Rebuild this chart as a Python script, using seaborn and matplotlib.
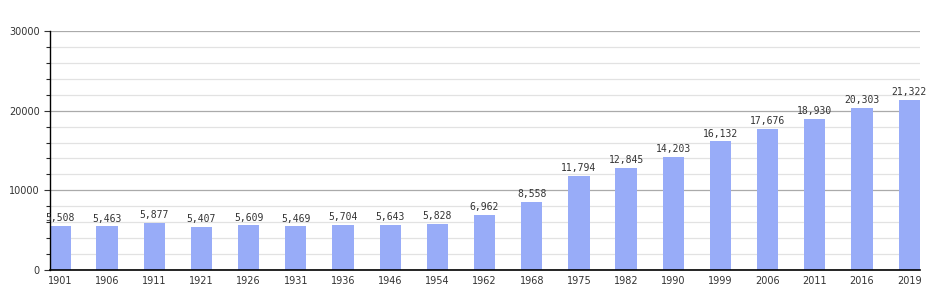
import matplotlib
matplotlib.use("Agg")
import matplotlib.pyplot as plt
import seaborn as sns
import pandas as pd
from matplotlib.ticker import MultipleLocator

years = ["1901", "1906", "1911", "1921", "1926", "1931", "1936", "1946", "1954", "1962",
         "1968", "1975", "1982", "1990", "1999", "2006", "2011", "2016", "2019"]
population = [5508, 5463, 5877, 5407, 5609, 5469, 5704, 5643, 5828, 6962,
              8558, 11794, 12845, 14203, 16132, 17676, 18930, 20303, 21322]
y_ticks = [0, 10000, 20000, 30000]

sns.set_style("white")
plt.rcParams['font.family'] = ['DejaVu Sans']

df = pd.DataFrame({"year": years, "pop": population})

fig = plt.figure(figsize=(9.5, 3.0), dpi=100)
ax = fig.add_axes([50/950, 30/300, 870/950, 239/300])

ax.yaxis.set_minor_locator(MultipleLocator(2000))
ax.set_yticks(y_ticks)
ax.grid(which="major", axis="y", color="#aaaaaa", linewidth=0.9)
ax.grid(which="minor", axis="y", color="#e2e2e2", linewidth=0.9)
ax.set_axisbelow(True)

sns.barplot(data=df, x="year", y="pop", color="#98acf8", width=0.45, ax=ax,
            saturation=1, edgecolor="none")

for i, v in enumerate(population):
    ax.text(i, v + 350, f"{v:,}", ha="center", va="bottom", fontsize=7,
            family="DejaVu Sans Mono", color="#333333")

ax.set_ylim(0, 30000)
ax.set_xlim(-0.21, 18.23)
ax.set_xlabel("")
ax.set_ylabel("")
ax.set_yticklabels([str(t) for t in y_ticks])
ax.tick_params(axis="y", which="major", length=4, width=0.8, labelsize=7, colors="#333333", direction="out", left=True)
ax.tick_params(axis="y", which="minor", length=3, width=0.8, direction="out", left=True)
ax.tick_params(axis="x", length=0, labelsize=7, colors="#333333", pad=4)
for lab in ax.get_yticklabels() + ax.get_xticklabels():
    lab.set_color("#333333")

for s in ["top", "right"]:
    ax.spines[s].set_visible(False)
ax.spines["left"].set_color("black")
ax.spines["bottom"].set_color("black")
ax.spines["left"].set_linewidth(1.0)
ax.spines["bottom"].set_linewidth(1.2)

fig.savefig("out.png", dpi=100)
